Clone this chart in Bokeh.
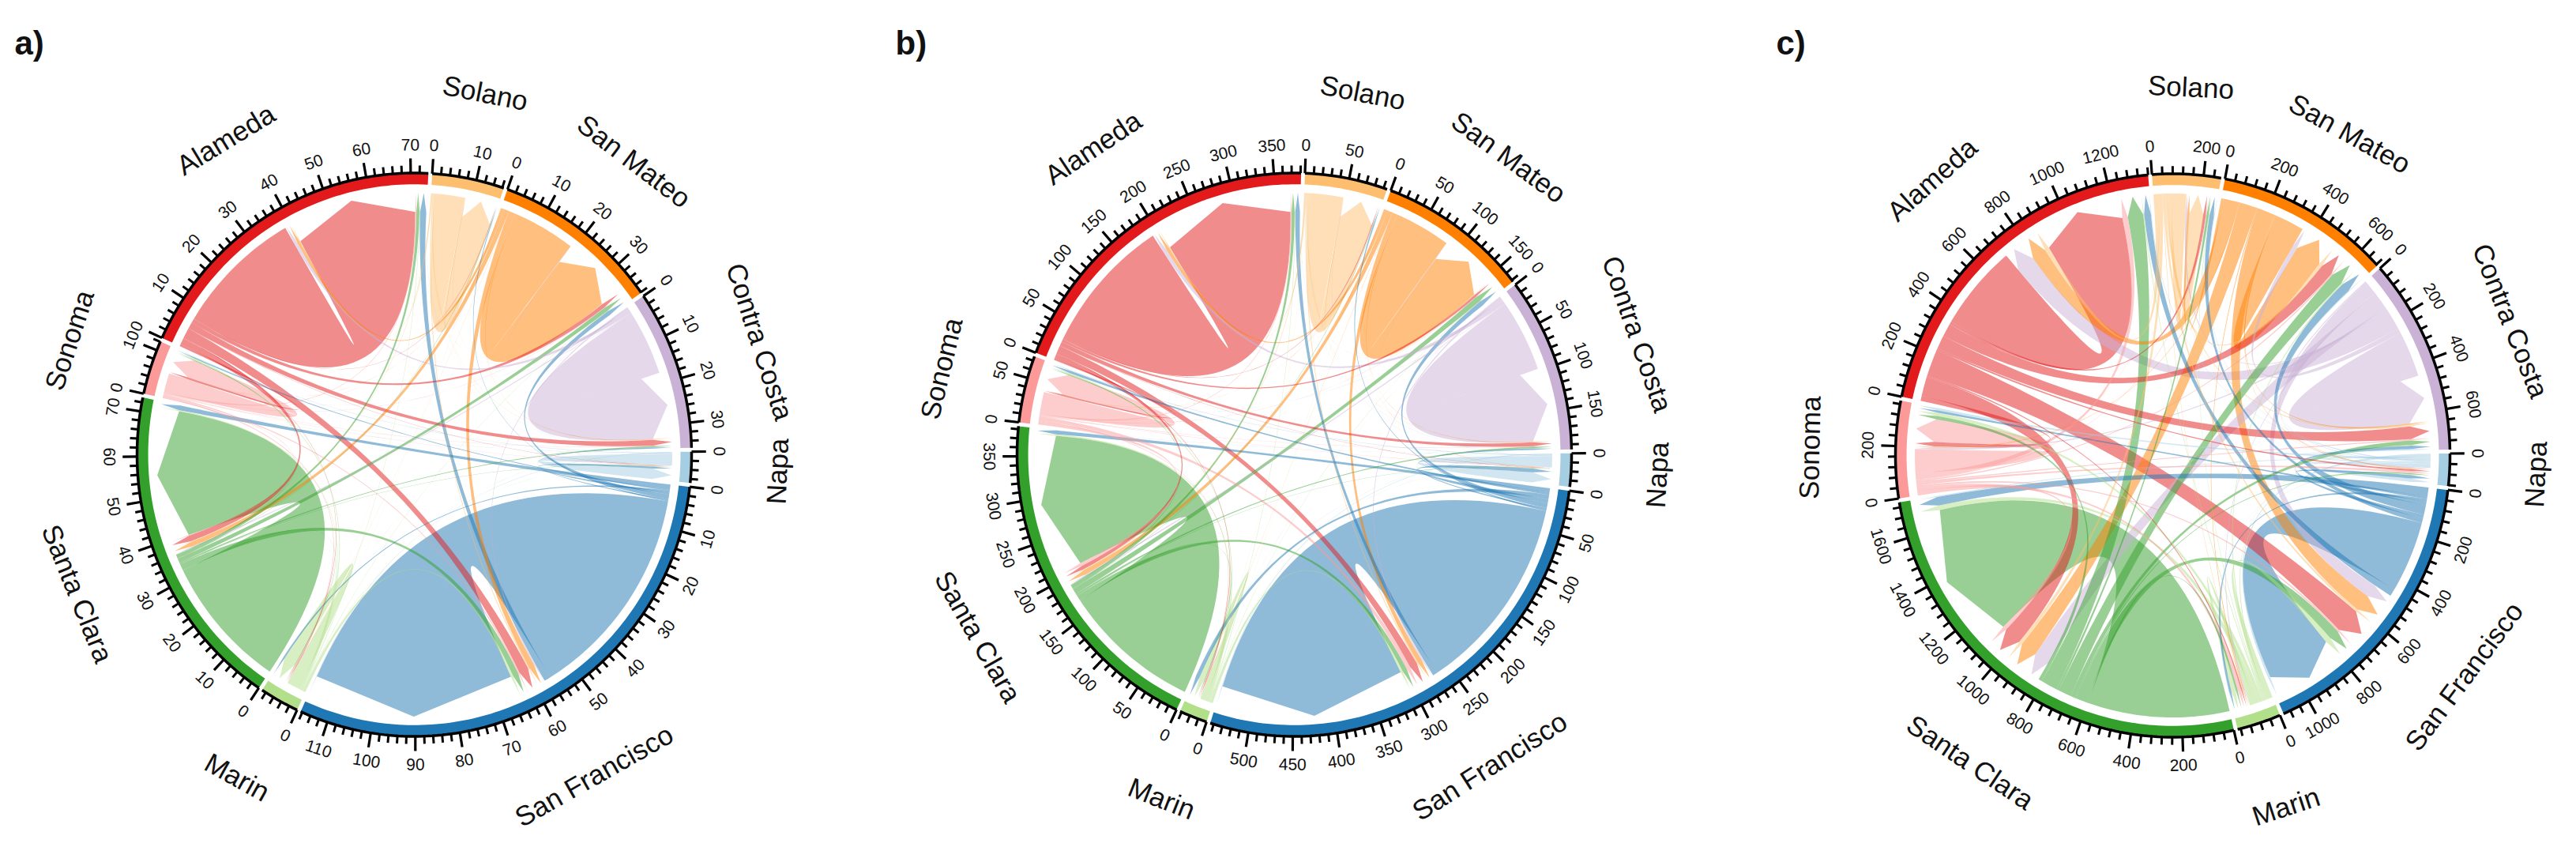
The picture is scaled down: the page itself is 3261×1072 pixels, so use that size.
import math
from bokeh.embed import file_html
from bokeh.resources import INLINE
from bokeh.plotting import figure
from bokeh.layouts import row
from bokeh.models import Range1d
from bokeh.core.properties import value

sectors = ["Solano", "San Mateo", "Contra Costa", "Napa", "San Francisco",
           "Marin", "Santa Clara", "Sonoma", "Alameda"]
colors = ["#FDBF6F", "#FF7F00", "#CAB2D6", "#A6CEE3", "#1F78B4",
          "#B2DF8A", "#33A02C", "#FB9A99", "#E31A1C"]

# flows from row sector to column sector (same order as sectors)
flow_a = [
    [7.4, .1, .1, .05, .3, .02, .15, .02, .2],
    [.1, 15.4, .1, .02, 1.5, .05, 1.2, .05, .7],
    [.05, .1, 15.7, .05, .3, .02, .3, .05, .8],
    [.02, .02, .05, 2.7, .15, .02, .05, .15, .05],
    [.2, 1.1, .3, .5, 51.8, .4, 1.2, .3, 1.6],
    [.03, .1, .03, .05, .6, 3.1, .3, .4, .15],
    [.1, 1.1, .3, .1, 1.5, .15, 32, .15, .8],
    [.02, .1, .1, .1, .35, .3, .2, 4.5, .3],
    [.1, 1.0, 1.5, .1, 2.5, .15, 1.5, .5, 31],
]
flow_b = [
    [42, .5, .5, .3, 1.5, .2, 1, .2, 1.5],
    [.5, 68, .5, .2, 6, .3, 6, .3, 4],
    [.3, .5, 87, .3, 2, .2, 2, .3, 5],
    [.2, .2, .3, 13, 1, .2, .3, 1, .3],
    [1.5, 6, 2, 5, 238, 5, 5, 3, 6],
    [.2, .5, .2, .3, 3, 7, 2, 2, .8],
    [.5, 7, 2, .5, 6, 1, 168, 1, 4],
    [.2, .5, .5, .5, 5, 1, 4, 26, 1.5],
    [1, 3, 5, .5, 10, 1, 5, 2, 165],
]
flow_c = [
    [62, 15, 8, 2, 10, 3, 15, 2, 20],
    [10, 122, 5, 3, 75, 4, 75, 3, 65],
    [8, 20, 190, 5, 56, 5, 70, 8, 84],
    [3, 4, 6, 15, 10, 2, 5, 10, 3],
    [20, 40, 15, 15, 295, 10, 38, 10, 30],
    [3, 6, 3, 3, 25, 20, 20, 15, 4],
    [10, 55, 20, 5, 45, 8, 595, 15, 70],
    [3, 6, 6, 10, 8, 15, 18, 100, 25],
    [12, 55, 56, 8, 112, 6, 80, 20, 355],
]
# order of link ends inside each sector, clockwise
in_order = [2, 1, 0, 8, 7, 6, 5, 4, 3]
out_order = [
    [8, 7, 6, 5, 4, 3, 2, 1, 0],
    [0, 8, 7, 6, 5, 4, 3, 2, 1],
    [3, 4, 5, 6, 7, 0, 8, 1, 2],
    [4, 5, 6, 7, 8, 0, 1, 2, 3],
    [6, 7, 5, 3, 1, 2, 0, 4, 8],
    [4, 3, 2, 1, 0, 8, 7, 6, 5],
    [6, 5, 4, 3, 2, 1, 0, 8, 7],
    [6, 5, 4, 3, 2, 1, 0, 8, 7],
    [7, 6, 5, 4, 3, 2, 1, 0, 8],
]
panel_names = ["a)", "b)", "c)"]
panel_flows = [flow_a, flow_b, flow_c]
panel_major = [10, 50, 200]
panel_first = [3.7, 2.2, -4.3]
panel_left = [8, 1089, 2170]
panel_cx = [532, 1646, 2758]
panel_title_x = [26, 1141, 2256]
panel_cy = [583, 583, 584]

PW, PH = 1081, 1056
RX, RY = 351.0, 356.5
GAP = 0.8
R_BAND = 0.96
R_SRC = 0.93
R_SHOULDER = 0.862


def pt(phi, r):
    a = math.radians(phi)
    return r * math.sin(a), r * math.cos(a)


def arc(p0, p1, r, step=1.0):
    n = max(2, int(abs(p1 - p0) / step) + 2)
    return [pt(p0 + (p1 - p0) * i / (n - 1), r) for i in range(n)]


def bez(a, b, n=36):
    # quadratic curve with its control point at the circle's centre
    out = []
    for i in range(1, n):
        t = i / n
        k0, k2 = (1 - t) ** 2, t ** 2
        out.append((k0 * a[0] + k2 * b[0], k0 * a[1] + k2 * b[1]))
    return out


def upright(phi):
    phi = phi % 360
    return -phi if (phi <= 90 or phi >= 270) else 180 - phi


def chord_panel(idx):
    flow = panel_flows[idx]
    n = len(sectors)
    cx = panel_cx[idx] - panel_left[idx]
    cy = panel_cy[idx] - 8
    p = figure(width=PW, height=PH, output_backend="svg", toolbar_location=None,
               x_range=Range1d(-cx / RX, (PW - cx) / RX),
               y_range=Range1d((cy - PH) / RY, cy / RY), min_border=0)
    p.axis.visible = False
    p.grid.visible = False
    p.outline_line_color = None
    p.background_fill_color = None
    p.border_fill_color = None

    totals = [sum(flow[i]) + sum(flow[j][i] for j in range(n)) for i in range(n)]
    scale = (360 - n * GAP) / sum(totals)
    starts, ends, out_end, in_end = [], [], {}, {}
    cur = panel_first[idx]
    for i in range(n):
        starts.append(cur)
        pos = cur
        for j in out_order[i]:
            w = flow[i][j] * scale
            out_end[(i, j)] = (pos, pos + w)
            pos += w
        for j in in_order:
            w = flow[j][i] * scale
            in_end[(j, i)] = (pos, pos + w)
            pos += w
        ends.append(pos)
        cur = pos + GAP

    # links, biggest first so thin ones stay on top
    xs, ys, cols = [], [], []
    pairs = sorted(out_end, key=lambda k: -flow[k[0]][k[1]])
    for (i, j) in pairs:
        a, b = out_end[(i, j)]
        c, d = in_end[(i, j)]
        poly = arc(a, b, R_SRC)
        poly += bez(pt(b, R_SRC), pt(c, R_SHOULDER))
        poly += [pt(c, R_SHOULDER), pt((c + d) / 2, R_SRC), pt(d, R_SHOULDER)]
        poly += bez(pt(d, R_SHOULDER), pt(a, R_SRC))
        xs.append([q[0] for q in poly])
        ys.append([q[1] for q in poly])
        cols.append(colors[i])
    p.patches(xs, ys, fill_color=cols, fill_alpha=0.5, line_color=None)

    # outer band
    bx, by = [], []
    for i in range(n):
        poly = arc(starts[i], ends[i], 1.0) + arc(ends[i], starts[i], R_BAND)
        bx.append([q[0] for q in poly])
        by.append([q[1] for q in poly])
    p.patches(bx, by, fill_color=colors, line_color=None)

    # axis lines, ticks, tick labels, sector names
    lx, ly = [], []
    mx0, my0, mx1, my1 = [], [], [], []
    Mx0, My0, Mx1, My1 = [], [], [], []
    tx, ty, tt, ta = [], [], [], []
    major = panel_major[idx]
    minor = major / 5
    for i in range(n):
        line = arc(starts[i], ends[i], 1.0)
        lx.append([q[0] for q in line])
        ly.append([q[1] for q in line])
        k = 0
        while k * minor <= totals[i]:
            v = k * minor
            phi = starts[i] + v * scale
            x0, y0 = pt(phi, 1.0)
            if k % 5 == 0:
                x1, y1 = pt(phi, 1.052)
                Mx0.append(x0); My0.append(y0); Mx1.append(x1); My1.append(y1)
                lx_, ly_ = pt(phi, 1.10)
                tx.append(lx_); ty.append(ly_); tt.append(str(int(v)))
                ta.append(math.radians(upright(phi)))
            else:
                x1, y1 = pt(phi, 1.027)
                mx0.append(x0); my0.append(y0); mx1.append(x1); my1.append(y1)
            k += 1
    p.multi_line(lx, ly, line_color="black", line_width=3.5)
    p.segment(mx0, my0, mx1, my1, line_color="black", line_width=3)
    p.segment(Mx0, My0, Mx1, My1, line_color="black", line_width=3.2)
    p.text(x=tx, y=ty, text=tt, angle=ta, text_align="center", text_baseline="middle",
           text_font=value("Liberation Sans"), text_font_size=value("21px"), text_color="#111111")

    nx, ny, na = [], [], []
    for i in range(n):
        mid = (starts[i] + ends[i]) / 2
        q = pt(mid, 1.31)
        nx.append(q[0]); ny.append(q[1]); na.append(math.radians(upright(mid)))
    p.text(x=nx, y=ny, text=sectors, angle=na, text_align="center", text_baseline="middle",
           text_font=value("Liberation Sans"), text_font_size=value("35px"), text_color="#111111")

    p.text(x=[(panel_title_x[idx] - panel_cx[idx]) / RX], y=[(panel_cy[idx] - 62) / RY],
           text=[panel_names[idx]], text_align="left", text_baseline="alphabetic",
           text_font=value("Liberation Sans"), text_font_style="bold",
           text_font_size=value("42px"), text_color="#111111")
    return p


page = row(*[chord_panel(i) for i in range(3)], spacing=0)
open("out.html", "w").write(file_html(page, INLINE))
